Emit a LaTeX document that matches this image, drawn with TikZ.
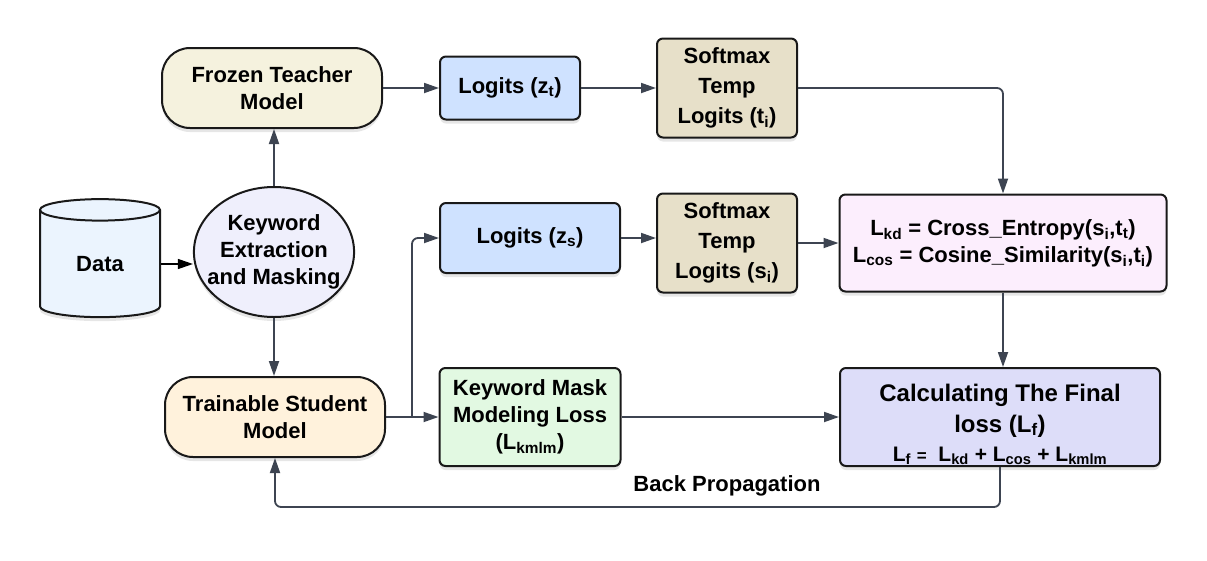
\documentclass[tikz,border=0pt]{standalone}
\usepackage{fontspec}
\setmainfont{Liberation Sans}
\usetikzlibrary{shapes.geometric,arrows.meta,shadows}

\definecolor{frozenfill}{HTML}{F5F2DE}
\definecolor{studentfill}{HTML}{FFF2DC}
\definecolor{logitfill}{HTML}{CFE2FF}
\definecolor{softfill}{HTML}{E7E0C9}
\definecolor{kmlmfill}{HTML}{E2F9E2}
\definecolor{lossfill}{HTML}{FCEEFD}
\definecolor{finalfill}{HTML}{DDDDF9}
\definecolor{kwfill}{HTML}{EFEFFC}
\definecolor{datafill}{HTML}{EBF4FE}
\definecolor{linegray}{HTML}{3D4451}

\tikzset{
	box/.style={rectangle, rounded corners=6pt, draw=black!90, line width=2pt,
		align=center, inner sep=0pt, font=\bfseries\fontsize{22}{27}\selectfont,
		drop shadow={shadow xshift=0pt, shadow yshift=-4pt, opacity=0.2}},
	pill/.style={box, rounded corners=28pt},
	conn/.style={draw=linegray, line width=1.8pt, rounded corners=6pt,
		-{Triangle[length=15pt, width=10pt]}},
}

\begin{document}
\begin{tikzpicture}[x=1pt, y=-1pt]
		\useasboundingbox (0,0) rectangle (1207,560);

		\node [box, cylinder, shape border rotate=90, aspect=0.45, rounded corners=0pt,
			fill=datafill, minimum width=120pt, minimum height=118pt] (data) at (100,264) {Data};
		\node [box, ellipse, rounded corners=0pt, fill=kwfill, inner xsep=-10pt,
			minimum width=160pt, minimum height=130pt] (kw) at (274,252) {Keyword\\Extraction\\and Masking};
		\node [pill, fill=frozenfill, minimum width=220pt, minimum height=80pt] (frozen) at (272,88) {Frozen Teacher\\Model};
		\node [pill, fill=studentfill, minimum width=220pt, minimum height=80pt] (student) at (275,417) {Trainable Student\\Model};

		\node [box, fill=logitfill, minimum width=140pt, minimum height=63pt] (lzt) at (510,88) {Logits (z\textsubscript{t})};
		\node [box, fill=softfill, minimum width=140pt, minimum height=99pt,
			font=\bfseries\fontsize{22}{30}\selectfont] (smt) at (727,88) {Softmax\\Temp\\Logits (t\textsubscript{i})};
		\node [box, fill=logitfill, minimum width=180pt, minimum height=70pt] (lzs) at (530,238) {Logits (z\textsubscript{s})};
		\node [box, fill=softfill, minimum width=140pt, minimum height=99pt,
			font=\bfseries\fontsize{22}{30}\selectfont] (sms) at (727,243) {Softmax\\Temp\\Logits (s\textsubscript{i})};
		\node [box, fill=kmlmfill, minimum width=181pt, minimum height=98pt] (kmlm) at (530,417) {Keyword Mask\\Modeling Loss\\(L\textsubscript{kmlm})};

		\node [box, fill=lossfill, minimum width=327pt, minimum height=97pt] (lkd) at (1003,243)
			{L\textsubscript{kd} = Cross\_Entropy(s\textsubscript{i},t\textsubscript{t})\\L\textsubscript{cos} = Cosine\_Similarity(s\textsubscript{i},t\textsubscript{i})};
		\node [box, fill=finalfill, minimum width=320pt, minimum height=98pt,
			font=\bfseries\fontsize{24}{31}\selectfont] (final) at (1000,417)
			{\rule{0pt}{32pt}Calculating The Final\\loss (L\textsubscript{f})\\[-2pt]\fontsize{21}{31}\selectfont L\textsubscript{f} {\fontsize{17}{20}\selectfont=}\ \ L\textsubscript{kd} + L\textsubscript{cos} + L\textsubscript{kmlm}};

		\node [font=\bfseries\fontsize{22}{27}\selectfont] (bplabel) at (727,486) {Back Propagation};

		\coordinate (split) at (412,417);
		\coordinate (bpturn) at (275,507);

		% teacher branch
		\draw[conn, draw=black, line width=1.3pt] (data.east |- 0,264) -- (kw.west |- 0,264);
		\draw[conn] (kw.north) -- (kw.north |- frozen.south);
		\draw[conn] (frozen.east) -- (lzt.west);
		\draw[conn] (lzt.east) -- (smt.west);
		\draw[conn] (smt.east) -| (lkd.north);

		% student branch
		\draw[conn] (kw.south) -- (kw.south |- student.north);
		\draw[conn] (student.east) -- (kmlm.west);
		\draw[conn] (split) |- (lzs.west);
		\draw[conn] (lzs.east) -- (lzs.east -| sms.west);
		\draw[conn] (sms.east) -- (lkd.west);
		\draw[conn] (lkd.south) -- (lkd.south |- final.north);
		\draw[conn] (kmlm.east) -- (final.west);
		\draw[conn] (final.south) |- (bpturn) -- (student.south);
	\end{tikzpicture}
\end{document}
